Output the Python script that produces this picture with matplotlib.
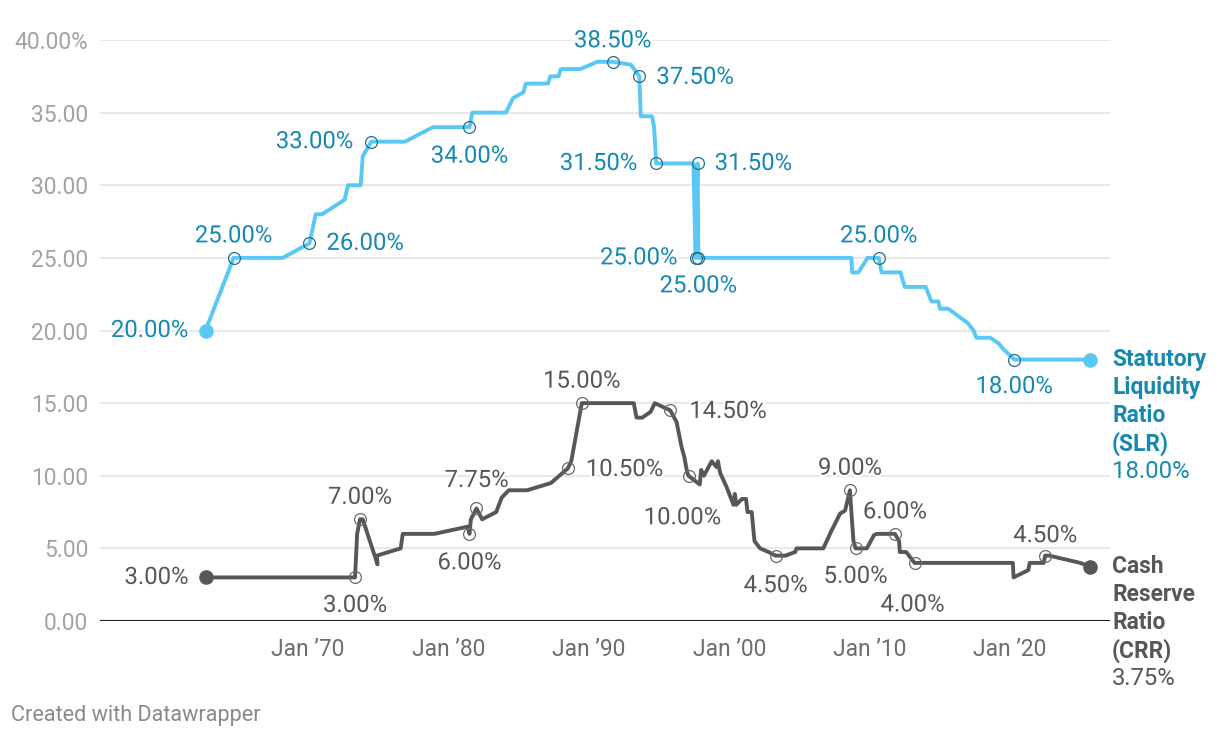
import matplotlib
matplotlib.use("Agg")
import matplotlib.pyplot as plt
import matplotlib.patheffects as pe

plt.rcParams['font.family'] = ['Roboto', 'DejaVu Sans']

# ---------------- data ----------------
slr_dates = [1962.7, 1964.7, 1968.2, 1970.1, 1970.55, 1971.0, 1972.6, 1972.85, 1973.75, 1973.9,
             1974.5, 1976.9, 1978.9, 1981.5, 1981.7, 1984.1, 1984.6, 1985.35, 1985.5, 1987.1,
             1987.25, 1987.85, 1988.0, 1989.4, 1990.6, 1991.7, 1993.0, 1993.6, 1993.7, 1994.5,
             1994.65, 1994.8, 1997.45, 1997.6, 1997.75, 1997.8, 2008.7, 2008.75, 2009.2, 2009.85,
             2010.65, 2010.85, 2012.2, 2012.5, 2014.0, 2014.4, 2014.9, 2015.0, 2015.6, 2016.3,
             2017.0, 2017.4, 2017.6, 2018.6, 2019.2, 2019.5, 2020.3, 2025.7]
slr_values = [20, 25, 25, 26, 28, 28, 29, 30, 30, 32,
              33, 33, 34, 34, 35, 35, 36, 36.4, 37, 37,
              37.5, 37.5, 38, 38, 38.5, 38.5, 38.3, 37.5, 34.75, 34.75,
              34, 31.5, 31.5, 25, 31.5, 25, 25, 24, 24, 25,
              25, 24, 24, 23, 23, 22, 22, 21.5, 21.5, 21,
              20.5, 20, 19.5, 19.5, 19.1, 18.75, 18, 18]

crr_dates = [1962.7, 1973.35, 1973.5, 1973.7, 1973.9, 1974.95, 1974.9, 1976.6, 1976.75, 1979.0,
             1981.4, 1981.5, 1981.6, 1982.0, 1982.4, 1983.4, 1983.8, 1984.3, 1985.6, 1987.3,
             1987.9, 1988.5, 1988.75, 1989.5, 1993.2, 1993.4, 1993.8, 1994.4, 1994.7, 1995.8,
             1996.25, 1996.6, 1996.8, 1997.0, 1997.1, 1997.9, 1998.0, 1998.2, 1998.75, 1999.1,
             1999.2, 1999.35, 1999.8, 2000.3, 2000.4, 2000.5, 2000.9, 2001.2, 2001.3, 2001.6,
             2001.8, 2002.2, 2002.8, 2003.3, 2004.0, 2004.7, 2004.8, 2006.7, 2007.3, 2007.9,
             2008.25, 2008.6, 2008.7, 2008.85, 2009.0, 2009.8, 2010.3, 2010.5, 2011.8, 2012.1,
             2012.15, 2012.6, 2013.2, 2020.2, 2020.25, 2021.3, 2021.4, 2022.4, 2022.5, 2022.8,
             2025.0, 2025.7]
crr_values = [3, 3, 6, 7, 7, 3.9, 4.5, 5, 6, 6,
              6.5, 6, 7, 7.75, 7, 7.5, 8.5, 9, 9, 9.5,
              10, 10.5, 11, 15, 15, 14, 14, 14.4, 15, 14.5,
              13.7, 12, 11.3, 10.25, 10, 9.4, 10.4, 10, 11, 10.6,
              11, 10.2, 9.25, 8, 8.75, 8, 8.4, 8.4, 7.5, 7.5,
              5.5, 5, 4.75, 4.5, 4.5, 4.75, 5, 5, 6.25, 7.4,
              7.6, 9, 7.5, 5.5, 5, 5, 5.9, 6, 6, 5.5,
              4.75, 4.75, 4, 4, 3, 3.5, 4, 4, 4.5, 4.5,
              4, 3.75]

y_ticks = [0, 5, 10, 15, 20, 25, 30, 35, 40]
y_tick_labels = ['0.00', '5.00', '10.00', '15.00', '20.00', '25.00', '30.00', '35.00', '40.00%']
x_ticks = [1970, 1980, 1990, 2000, 2010, 2020]
x_tick_labels = ['Jan ’70', 'Jan ’80', 'Jan ’90', 'Jan ’00', 'Jan ’10', 'Jan ’20']

slr_name = ['Statutory', 'Liquidity', 'Ratio', '(SLR)']
crr_name = ['Cash', 'Reserve', 'Ratio', '(CRR)']

# labelled points: index into series, label offset in pixels (style)
slr_label_idx = [1, 3, 10, 13, 25, 27, 31, 33, 34, 35, 40, 56]
slr_label_off = [(0, 22, 'center'), (17, 0, 'left'), (-18, 0, 'right'), (0, -29, 'center'),
                 (0, 21, 'center'), (17, -1, 'left'), (-19, 0, 'right'), (-18, 0, 'right'),
                 (17, 0, 'left'), (0, -28, 'center'), (0, 22, 'center'), (0, -27, 'center')]
crr_label_idx = [1, 3, 11, 13, 21, 23, 29, 34, 53, 61, 64, 68, 72, 78]
crr_label_off = [(0, -28, 'center'), (0, 22, 'center'), (0, -29, 'center'), (0, 28, 'center'),
                 (18, -1, 'left'), (0, 22, 'center'), (19, -1, 'left'), (-6, -42, 'center'),
                 (0, -30, 'center'), (0, 22, 'center'), (0, -28, 'center'), (0, 22, 'center'),
                 (-2, -42, 'center'), (0, 20, 'center')]

# ---------------- style ----------------
W, H = 1220, 738
SLR_LINE = '#5ac8f5'
SLR_TEXT = '#1689b2'
SLR_CIRC = '#1f6f8c'
CRR_LINE = '#575757'
CRR_TEXT = '#575757'
CRR_CIRC = '#6a6a6a'
FS = 17.2
FS_TICK = 16.4

fig = plt.figure(figsize=(W / 100, H / 100), dpi=100)
ax = fig.add_axes([100 / W, 117 / H, 1010 / W, 581 / H])
ax.set_xlim(1955.185, 2027.12)
ax.set_ylim(0, 40)
for s in ax.spines.values():
    s.set_visible(False)

ax.set_yticks(y_ticks)
ax.set_yticklabels(y_tick_labels)
ax.set_xticks(x_ticks)
ax.set_xticklabels(x_tick_labels)
ax.tick_params(axis='y', length=0, pad=8.5, labelsize=FS_TICK, labelcolor='#a3a3a3')
ax.tick_params(axis='x', length=0, pad=12, labelsize=FS_TICK, labelcolor='#6e6e6e')
ax.yaxis.grid(True, color='#e2e2e2', lw=1.1)
ax.set_axisbelow(True)
ax.axhline(0, color='#1a1a1a', lw=1.5, zorder=2)

halo = [pe.withStroke(linewidth=3, foreground='white')]


def draw_series(dates, values, line_c, text_c, circ_c, idxs, offs, name):
    ax.plot(dates, values, color=line_c, lw=2.8, solid_joinstyle='round',
            solid_capstyle='round', zorder=3, clip_on=False)
    ax.plot([dates[0], dates[-1]], [values[0], values[-1]], 'o', color=line_c,
            ms=9.5, zorder=4, clip_on=False)
    # start label
    ax.annotate(f'{values[0]:.2f}%', (dates[0], values[0]), xytext=(-17, 0),
                textcoords='offset pixels', ha='right', va='center', fontsize=FS,
                color=text_c, zorder=6, path_effects=halo)
    for i, (dx, dy, ha) in zip(idxs, offs):
        ax.plot(dates[i], values[i], 'o', mfc='none', mec=circ_c, mew=0.9, ms=8.5, zorder=5)
        ax.annotate(f'{values[i]:.2f}%', (dates[i], values[i]), xytext=(dx, dy),
                    textcoords='offset pixels', ha=ha, va='center', fontsize=FS,
                    color=text_c, zorder=6, path_effects=halo)
    # end label
    for k, t in enumerate(name):
        ax.annotate(t, (dates[-1], values[-1]), xytext=(22, -28 * k),
                    textcoords='offset pixels', ha='left', va='center', fontsize=FS_TICK,
                    fontweight='bold', color=text_c, annotation_clip=False, zorder=6)
    ax.annotate(f'{values[-1]:.2f}%', (dates[-1], values[-1]), xytext=(22, -28 * len(name)),
                textcoords='offset pixels', ha='left', va='center', fontsize=FS,
                color=text_c, annotation_clip=False, zorder=6)


draw_series(slr_dates, slr_values, SLR_LINE, SLR_TEXT, SLR_CIRC, slr_label_idx, slr_label_off, slr_name)
draw_series(crr_dates, crr_values, CRR_LINE, CRR_TEXT, CRR_CIRC, crr_label_idx, crr_label_off, crr_name)

fig.text(11 / W, 1 - 716 / H, 'Created with Datawrapper', ha='left', va='center',
         fontsize=15.6, color='#8a8a8a')

fig.savefig('out.png', dpi=100)
